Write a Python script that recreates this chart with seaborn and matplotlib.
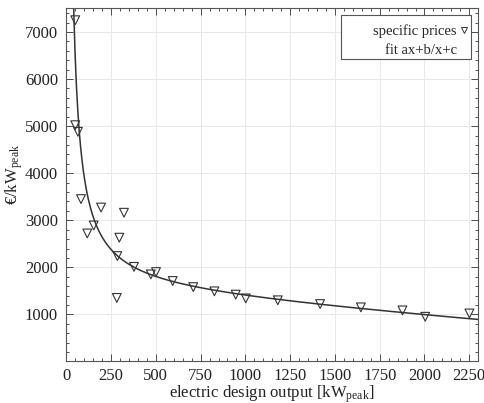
import numpy as np
import pandas as pd
import seaborn as sns
import matplotlib
matplotlib.use("Agg")
import matplotlib.pyplot as plt
from matplotlib.lines import Line2D
from matplotlib.patches import Rectangle
from matplotlib.ticker import MultipleLocator

# data
output_kw = [50, 50, 65, 82, 117, 153, 194, 282, 285, 296, 322, 378, 472, 501,
             594, 709, 827, 946, 1002, 1181, 1417, 1645, 1877, 2004, 2251]
price_eur = [7250, 5020, 4880, 3450, 2720, 2890, 3270, 1350, 2240, 2630, 3160,
             2010, 1850, 1900, 1710, 1580, 1490, 1420, 1340, 1300, 1220, 1150,
             1085, 950, 1020]
# fit ax + b/x + c
fit_a, fit_b, fit_c = -0.2905, 249790.0, 1452.6
x_ticks = [0, 250, 500, 750, 1000, 1250, 1500, 1750, 2000, 2250]
y_ticks = [1000, 2000, 3000, 4000, 5000, 6000, 7000]

sns.set_theme(style="ticks")
plt.rcParams['font.family'] = ['Liberation Serif', 'DejaVu Serif']
plt.rcParams['mathtext.fontset'] = 'custom'
plt.rcParams['mathtext.rm'] = 'Liberation Serif'
plt.rcParams['mathtext.it'] = 'Liberation Serif:italic'

fig = plt.figure(figsize=(4.84, 4.03), dpi=100)
ax = fig.add_axes([0.137, 0.103, 0.851, 0.876])

df = pd.DataFrame({"x": output_kw, "y": price_eur})
xf = np.linspace(30, 2300, 600)
fit_df = pd.DataFrame({"x": xf, "y": fit_a * xf + fit_b / xf + fit_c})

ax.grid(True, color="#e8e8e8", linewidth=0.7)
ax.set_axisbelow(True)
sns.lineplot(data=fit_df, x="x", y="y", ax=ax, color="#333333", linewidth=1.1,
             legend=False)
sns.scatterplot(data=df, x="x", y="y", ax=ax, marker="v", s=40,
                facecolor="none", edgecolor="#333333", linewidth=0.8,
                legend=False, zorder=3)

ax.set_xlim(0, 2300)
ax.set_ylim(0, 7500)
ax.set_xticks(x_ticks)
ax.set_yticks(y_ticks)
ax.xaxis.set_minor_locator(MultipleLocator(50))
ax.yaxis.set_minor_locator(MultipleLocator(200))
ax.tick_params(which="both", direction="in", top=True, right=True,
               labelsize=12, colors="#333333", labelcolor="#222222")
ax.tick_params(which="major", length=5, width=0.6, pad=6)
ax.tick_params(axis="x", which="major", pad=5)
ax.tick_params(which="minor", length=2.5, width=0.6)
for s in ax.spines.values():
    s.set_color("#555555")
    s.set_linewidth(0.8)

ax.set_xlabel(r"electric design output [kW$_{\rm peak}$]", fontsize=12,
              labelpad=-0.5, color="#222222")
ax.set_ylabel(r"€/kW$_{\rm peak}$", fontsize=12, color="#222222")
ax.yaxis.set_label_coords(-0.1, 0.53)

# legend box (gnuplot style, wide left padding)
ax.add_patch(Rectangle((0.667, 0.857), 0.315, 0.1246, transform=ax.transAxes,
                       facecolor="white", edgecolor="#555555", linewidth=0.8,
                       zorder=4))
handles = [Line2D([], [], marker="v", linestyle="none", markerfacecolor="none",
                  markeredgecolor="#333333", markersize=5, markeredgewidth=0.7),
           Line2D([], [], linestyle="none")]
leg = ax.legend(handles, ["specific prices", "fit ax+b/x+c"], loc="upper right",
                markerfirst=False, fontsize=10.5, frameon=False,
                handlelength=0.5, handletextpad=0.25, borderpad=0,
                labelspacing=0.4, borderaxespad=0,
                bbox_to_anchor=(0.974, 0.956))
leg.set_zorder(5)

fig.savefig("out.png", dpi=100)
